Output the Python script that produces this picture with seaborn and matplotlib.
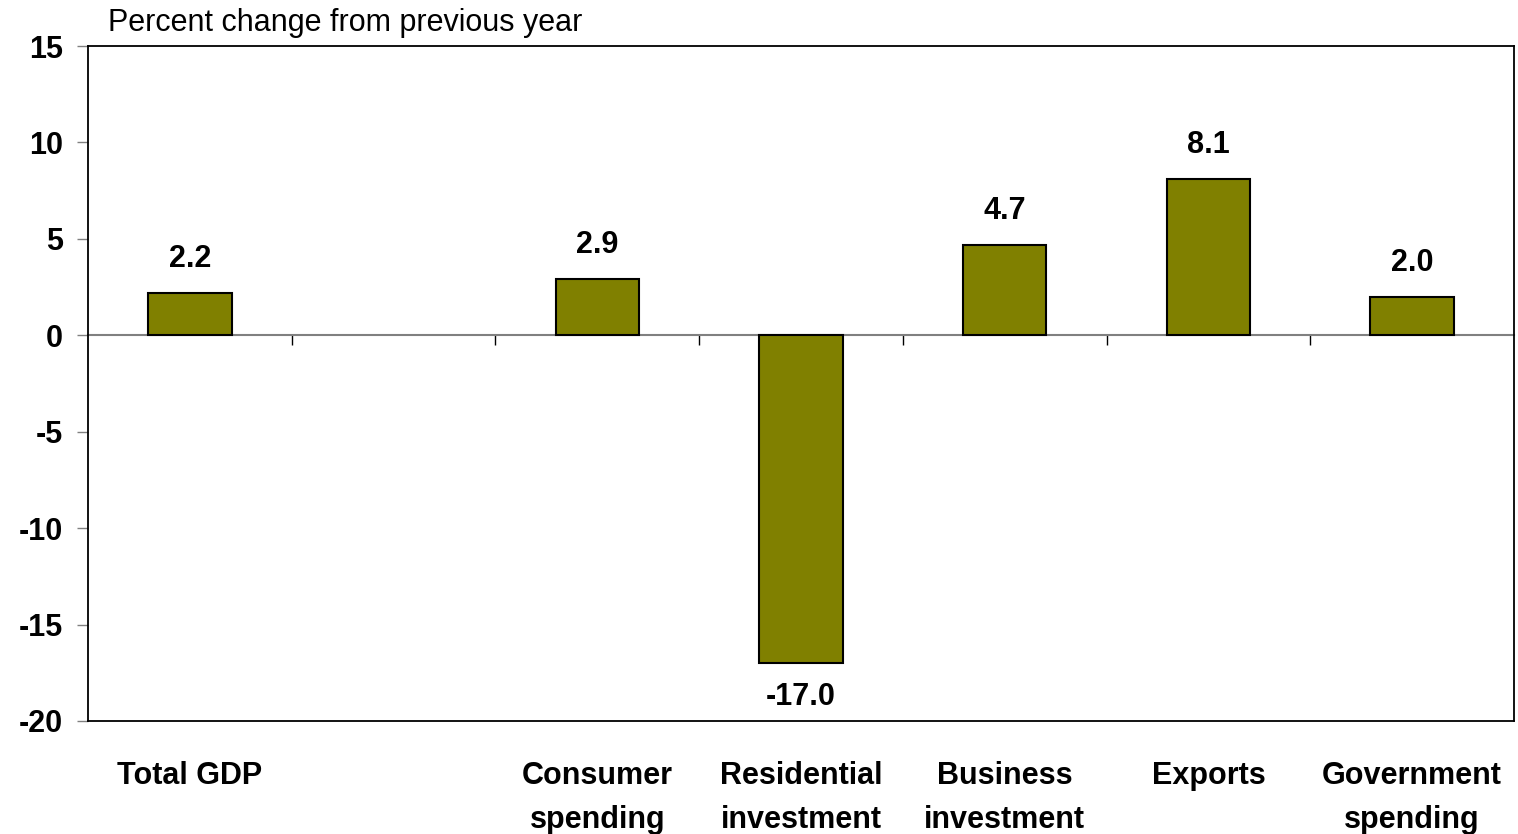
import numpy as np
import pandas as pd
import matplotlib
matplotlib.use("Agg")
import matplotlib.pyplot as plt
import seaborn as sns

categories = ["Total GDP", " ", "Consumer\nspending", "Residential\ninvestment",
              "Business\ninvestment", "Exports", "Government\nspending"]
values = [2.2, np.nan, 2.9, -17.0, 4.7, 8.1, 2.0]
y_ticks = [-20, -15, -10, -5, 0, 5, 10, 15]
title = "Percent change from previous year"

sns.set_style("white")
plt.rcParams["font.family"] = ["Liberation Sans", "DejaVu Sans"]
plt.rcParams["text.color"] = "black"
plt.rcParams["xtick.color"] = "black"
plt.rcParams["ytick.color"] = "black"
plt.rcParams["xtick.labelcolor"] = "black"
plt.rcParams["ytick.labelcolor"] = "black"

df = pd.DataFrame({"category": categories, "value": values}).dropna()

fig = plt.figure(figsize=(15.18, 8.34), dpi=100)
ax = fig.add_axes([88 / 1518, 1 - 721 / 834, (1514 - 88) / 1518, (721 - 46) / 834])

sns.barplot(data=df, x="category", y="value", order=categories, color="#808000",
            saturation=1, edgecolor="black", linewidth=1.5, width=0.41,
            errorbar=None, ax=ax, zorder=3)

ax.set_ylim(-20, 15)
ax.set_xlim(-0.5, len(categories) - 0.5)
ax.set_yticks(y_ticks)
ax.set_yticklabels([str(t) for t in y_ticks], fontsize=22, fontweight="bold", color="black")
ax.tick_params(axis="y", length=8, width=1, color="#808080", pad=10, left=True)
ax.set_xticks(range(len(categories)))
ax.set_xticklabels(categories, fontsize=22, fontweight="bold", color="black")
ax.tick_params(axis="x", length=0, pad=29)
for lab in ax.get_xticklabels():
    lab.set_linespacing(1.6)
ax.set_xlabel("")
ax.set_ylabel("")

for s in ax.spines.values():
    s.set_visible(True)
    s.set_color("black")
    s.set_linewidth(1.3)

# zero line with category-boundary ticks
sec = ax.secondary_xaxis(0, transform=ax.transData)
sec.set_xticks(np.arange(0.5, len(categories) - 0.5, 1.0))
sec.tick_params(axis="x", direction="out", length=7, width=1, color="black",
                labelbottom=False, labeltop=False)
sec.spines["bottom"].set_color("#808080")
sec.spines["bottom"].set_linewidth(1.5)
sec.spines["bottom"].set_zorder(2)

for i, v in enumerate(values):
    if np.isnan(v):
        continue
    off = 24.5 if v >= 0 else -24.5
    ax.annotate(f"{v:.1f}", xy=(i, v), xytext=(0, off), textcoords="offset points",
                ha="center", va="center", fontsize=22, fontweight="bold", color="black")

fig.text(108 / 1518, 1 - 23 / 834, title, fontsize=22, ha="left", va="center", color="black")

fig.savefig("out.png", dpi=100)
